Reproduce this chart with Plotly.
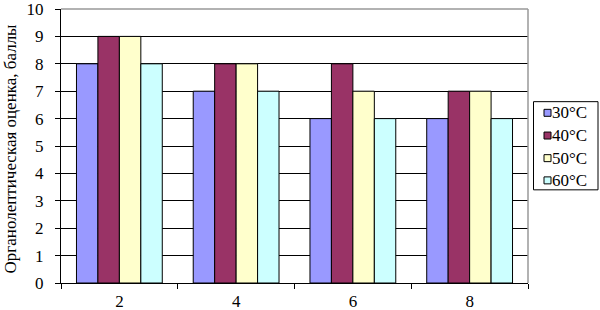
import plotly.graph_objects as go

categories = ["2", "4", "6", "8"]
series_names = ["30°C", "40°C", "50°C", "60°C"]
v30 = [8, 7, 6, 6]
v40 = [9, 8, 8, 7]
v50 = [9, 8, 7, 7]
v60 = [8, 7, 6, 6]
colors = ["#9999FF", "#993366", "#FFFFCC", "#CCFFFF"]
y_title = "Органолептическая оценка, баллы"

W, H = 600, 310
L, R, T, B = 61, 72, 8.5, 26.5
PW, PH = W - L - R, H - T - B


def px(x):
    return (x - L) / PW


def py(y):
    return (H - B - y) / PH


fig = go.Figure()
for name, vals, col in zip(series_names, [v30, v40, v50, v60], colors):
    fig.add_trace(go.Bar(x=categories, y=vals, name=name,
                         marker=dict(color=col, line=dict(color="black", width=1))))

font = "Times New Roman, Liberation Serif, DejaVu Serif, serif"
fig.update_layout(
    width=W, height=H,
    margin=dict(l=L, r=R, t=T, b=B, autoexpand=False),
    paper_bgcolor="white", plot_bgcolor="white",
    barmode="group", bargap=0.265, bargroupgap=0,
    font=dict(family=font, size=17, color="black"),
    showlegend=False,
    xaxis=dict(type="category", showline=True, linecolor="black", linewidth=1,
               ticks="outside", tickson="boundaries", ticklen=5, tickcolor="black",
               mirror=False, showgrid=False, automargin=False,
               tickfont=dict(family=font, size=17), ticklabelstandoff=3),
    yaxis=dict(range=[0, 10], dtick=1, showline=True, linecolor="black", linewidth=1,
               ticks="outside", ticklen=5, tickcolor="black",
               showgrid=True, gridcolor="black", gridwidth=1, automargin=False,
               tickfont=dict(family=font, size=17), ticklabelstandoff=8,
               ticklabeloverflow="allow"),
)
# y-axis title
fig.add_annotation(xref="paper", yref="paper", x=px(10), y=py(148.5),
                   xanchor="center", yanchor="middle", textangle=-90,
                   text=y_title, showarrow=False,
                   font=dict(family=font, size=17, color="black"))
# gray border on top and right of plot area
fig.add_shape(type="line", xref="paper", yref="paper", x0=0, x1=1, y0=1, y1=1,
              line=dict(color="#999999", width=1.5))
fig.add_shape(type="line", xref="paper", yref="paper", x0=1, x1=1, y0=0, y1=1,
              line=dict(color="#999999", width=1.5))

# legend box (drawn manually to match the compact original legend)
fig.add_shape(type="rect", xref="paper", yref="paper",
              x0=px(533.5), x1=px(598), y0=py(101.5), y1=py(190),
              line=dict(color="black", width=1), fillcolor="white")
row_y = [112.7, 135.5, 158.2, 180.5]
for name, col, ry in zip(series_names, colors, row_y):
    fig.add_shape(type="rect", xref="paper", yref="paper",
                  x0=px(544), x1=px(551), y0=py(ry - 3.5), y1=py(ry + 3.5),
                  line=dict(color="black", width=1), fillcolor=col)
    fig.add_annotation(xref="paper", yref="paper", x=px(551), y=py(ry),
                       xanchor="left", yanchor="middle", text=name, showarrow=False,
                       font=dict(family=font, size=17, color="black"),
                       borderpad=0)

fig.write_html("out.html", config={"displayModeBar": False},
               post_script="document.body.style.margin='0';document.body.style.padding='0';")
